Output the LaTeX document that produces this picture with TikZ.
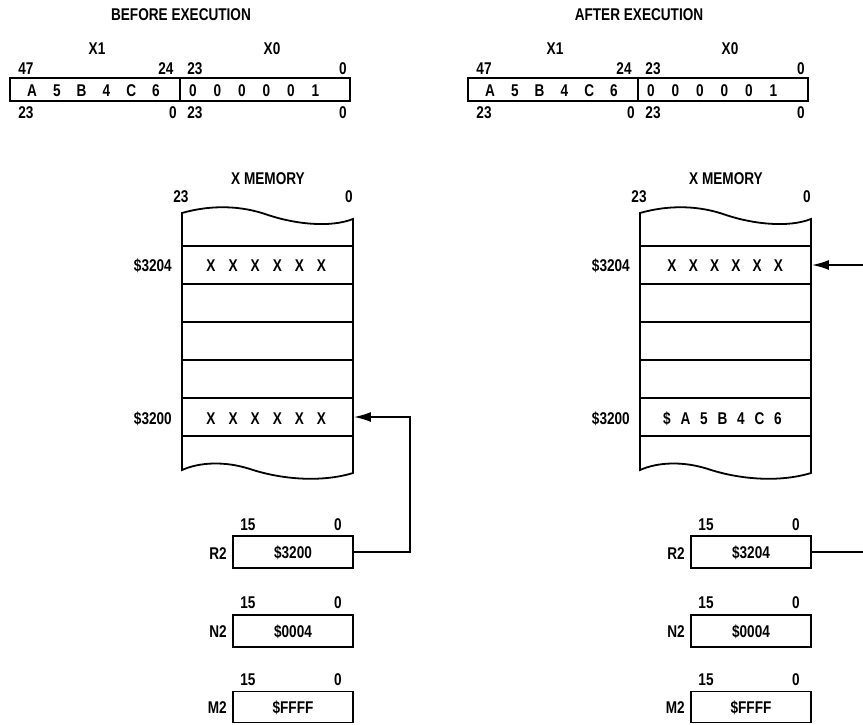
\documentclass[tikz,border=0pt]{standalone}
\usepackage{fontspec}
\setmainfont{Liberation Sans}[FakeStretch=0.8]
\usetikzlibrary{arrows.meta}

\tikzset{
  lbl/.style={font=\fontsize{17}{17}\selectfont\bfseries, inner sep=0pt, text height=12.2pt, text depth=0pt},
  box/.style={draw, line width=1.8pt, inner sep=0pt, font=\fontsize{17}{17}\selectfont\bfseries, text height=12.2pt, text depth=0pt},
  conn/.style={line width=1.8pt},
  tip/.style={-{Latex[length=17pt,width=10pt]}},
}

% #1 prefix, #2 xshift, #3 title, #4 R2 value
\newcommand{\drawpanel}[4]{%
\begin{scope}[xshift=#2pt]
  \node[lbl] (#1-title) at (181,14) {#3};
  \node[lbl] (#1-x1lbl) at (97,48) {X1};
  \node[lbl] (#1-x0lbl) at (272,48) {X0};
  \node[lbl] (#1-b47) at (26,68) {47};
  \node[lbl] (#1-b24) at (166,68) {24};
  \node[lbl] (#1-b23) at (195,68) {23};
  \node[lbl] (#1-b0) at (343,68) {0};
  \node[lbl] (#1-c23) at (26,112) {23};
  \node[lbl] (#1-c0) at (173,112) {0};
  \node[lbl] (#1-c23b) at (195,112) {23};
  \node[lbl] (#1-c0b) at (343,112) {0};
  \node[box, minimum width=170pt, minimum height=23pt] (#1-x1) at (95,89.5) {};
  \node[box, minimum width=170pt, minimum height=23pt] (#1-x0) at (265,89.5) {};
  \foreach \c [count=\i] in {A,5,B,4,C,6}
    \node[lbl] (#1-a\i) at ({32+24.8*(\i-1)},90) {\c};
  \foreach \c [count=\i] in {0,0,0,0,0,1}
    \node[lbl] (#1-z\i) at ({193+24.5*(\i-1)},90) {\c};
  % memory
  \node[lbl] (#1-mem) at (268,178) {X MEMORY};
  \node[lbl] (#1-m23) at (181,196) {23};
  \node[lbl] (#1-m0) at (349,196) {0};
  \foreach \k in {1,...,5}
    \node[box, minimum width=171pt, minimum height=38pt] (#1-row\k) at (267.5,{265+38*(\k-1)}) {};
  \draw[conn] (182,246) -- (182,213) .. controls (210,205) and (240,205) .. (268,215)
     .. controls (295,224) and (330,228) .. (353,219) -- (353,246);
  \draw[conn] (182,436) -- (182,470) .. controls (200,462) and (225,461) .. (250,469)
     .. controls (280,479) and (320,483) .. (353,473) -- (353,436);
  \node[lbl, anchor=east] (#1-ad4) at (172,265) {\$3204};
  \node[lbl, anchor=east] (#1-ad0) at (172,418) {\$3200};
  % address registers
  \node[box, minimum width=120pt, minimum height=32pt] (#1-r2) at (293,552) {#4};
  \node[lbl, anchor=east] (#1-r2n) at (227,553) {R2};
  \node[lbl] (#1-r2h) at (248,524) {15};
  \node[lbl] (#1-r2l) at (338,524) {0};
  \node[box, minimum width=120pt, minimum height=32pt] (#1-n2) at (293,631) {\$0004};
  \node[lbl, anchor=east] (#1-n2n) at (227,631) {N2};
  \node[lbl] (#1-n2h) at (248,602) {15};
  \node[lbl] (#1-n2l) at (338,602) {0};
  \node[box, minimum width=120pt, minimum height=31pt] (#1-m2) at (293,707) {\$FFFF};
  \node[lbl, anchor=east] (#1-m2n) at (227,707) {M2};
  \node[lbl] (#1-m2h) at (248,679) {15};
  \node[lbl] (#1-m2l) at (338,679) {0};
\end{scope}}

\begin{document}
\begin{tikzpicture}[x=1pt,y=-1pt]
  \useasboundingbox (0,0) rectangle (863,724);
  \clip (0,0) rectangle (863,724);

  \drawpanel{L}{0}{BEFORE EXECUTION}{\$3200}
  \drawpanel{R}{458}{AFTER EXECUTION}{\$3204}

  % memory contents, before
  \foreach \c [count=\i] in {X,X,X,X,X,X}
    \node[lbl] (L-p\i) at ({211+22.1*(\i-1)},265) {\c};
  \foreach \c [count=\i] in {X,X,X,X,X,X}
    \node[lbl] (L-q\i) at ({211+22.1*(\i-1)},418) {\c};
  % memory contents, after
  \foreach \c [count=\i] in {X,X,X,X,X,X}
    \node[lbl] (R-p\i) at ({672+21.3*(\i-1)},265) {\c};
  \foreach \c [count=\i] in {\$,A,5,B,4,C,6}
    \node[lbl] (R-q\i) at ({667+18.5*(\i-1)},418) {\c};

  % pointer connectors
  \coordinate (L-bend) at (410,485);
  \draw[conn, tip] (L-r2.east) -| (L-bend) |- (L-row5.east);
  \coordinate (R-bend) at (885,400);
  \draw[conn, tip] (R-r2.east) -| (R-bend) |- (R-row1.east);
\end{tikzpicture}
\end{document}
